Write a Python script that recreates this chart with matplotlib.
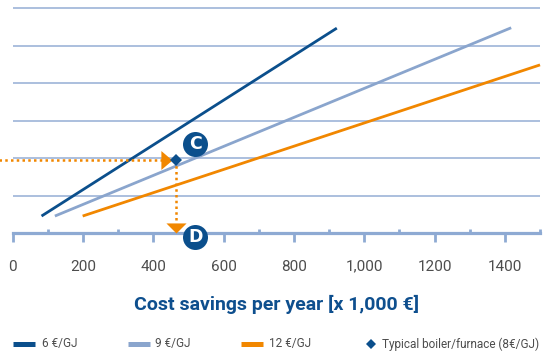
import matplotlib
matplotlib.use('Agg')
import matplotlib.pyplot as plt
from matplotlib.lines import Line2D

# series: (savings per year [x1000 EUR], relative investment level)
blue6_x = [82, 922]
blue6_y = [0.46, 5.47]
blue9_x = [120, 1418]
blue9_y = [0.46, 5.48]
orange12_x = [199, 1500]
orange12_y = [0.46, 4.49]

typical_x = 465
typical_y = 1.95

major_ticks = [0, 200, 400, 600, 800, 1000, 1200, 1400]
major_labels = ['0', '200', '400', '600', '800', '1,000', '1200', '1400']
minor_ticks = [100, 300, 500, 700, 900, 1100, 1300, 1500]
grid_levels = [1, 2, 3, 4, 5, 6]

series_labels = ['6 €/GJ', '9 €/GJ', '12 €/GJ']
typical_label = 'Typical boiler/furnace (8€/GJ)'

DARK = '#0b4f8c'
LIGHT = '#8aa5cd'
ORANGE = '#f18700'
GRID = '#9db4d8'
AXIS = '#8eaad3'
TXT = '#4d4d4d'

plt.rcParams['font.family'] = ['Roboto', 'DejaVu Sans']

fig = plt.figure(figsize=(5.46, 3.54), dpi=100)
ax = fig.add_axes([0, 104 / 354, 1, 250 / 354])
ax.set_xlim(-36.1, 1517)
ax.set_ylim(-0.445, 6.22)

ax.hlines(grid_levels, 0, 1500, color=GRID, lw=1.2, zorder=1)

ax.plot(blue6_x, blue6_y, color=DARK, lw=2, solid_capstyle='butt', zorder=3)
ax.plot(blue9_x, blue9_y, color=LIGHT, lw=2, solid_capstyle='butt', zorder=3)
ax.plot(orange12_x, orange12_y, color=ORANGE, lw=2, solid_capstyle='butt', zorder=3)

# dotted reading guides to the typical point
ax.plot([-40, typical_x - 40], [typical_y, typical_y], color=ORANGE, lw=1.8,
        ls=(0, (1, 1.3)), zorder=4)
ax.plot([typical_x, typical_x], [typical_y, 0.3], color=ORANGE, lw=1.8,
        ls=(0, (1, 1.3)), zorder=4)
ax.plot([typical_x - 13], [typical_y], marker=[(-1, -0.85), (0, 0), (-1, 0.85)],
        ms=16, color=ORANGE, mew=0, zorder=5)
ax.plot([typical_x], [0], marker=[(-1, 1), (0, 0), (1, 1)],
        ms=14.5, color=ORANGE, mew=0, zorder=5)
ax.plot([typical_x], [typical_y], marker='D', ms=6, color=DARK, mew=0, zorder=6)

# C / D badges
for lx, ly, letter in [(typical_x + 54, typical_y + 0.43, 'C'), (typical_x + 54, -0.107, 'D')]:
    ax.plot([lx], [ly], marker='o', ms=18, color=DARK, mew=0, zorder=7, clip_on=False)
    ax.text(lx, ly, letter, color='white', fontsize=12.5, fontweight='bold',
            ha='center', va='center', zorder=8, family=['DejaVu Sans'])

for s in ['top', 'right', 'left']:
    ax.spines[s].set_visible(False)
ax.spines['bottom'].set_position(('data', 0))
ax.spines['bottom'].set_bounds(0, 1500)
ax.spines['bottom'].set_color(AXIS)
ax.spines['bottom'].set_linewidth(2.3)
ax.spines['bottom'].set_zorder(2)
ax.set_yticks([])
ax.set_xticks(major_ticks)
ax.set_xticklabels(major_labels)
ax.set_xticks(minor_ticks, minor=True)
ax.tick_params(axis='x', which='major', direction='out', length=6.5, width=2,
               color=AXIS, pad=12.5, labelsize=11, labelcolor=TXT)
ax.tick_params(axis='x', which='minor', direction='in', length=2.6, width=2,
               color=AXIS)
ax.set_xlabel('Cost savings per year [x 1,000 €]', fontsize=14, color='#0e4f8e',
              fontweight='bold')
ax.xaxis.set_label_coords(277 / 546, (250 - 304) / 250)
ax.xaxis.label.set_va('center')

# legend row
ly = 1 - 344 / 354
for (x0, x1, tx), col, lab in zip([(13, 35, 41.5), (127.7, 150, 155), (241, 263.3, 269.3)],
                                  [DARK, LIGHT, ORANGE], series_labels):
    fig.add_artist(Line2D([x0 / 546, x1 / 546], [ly, ly], color=col, lw=3.6,
                          solid_capstyle='butt'))
    fig.text(tx / 546, ly, lab, fontsize=8.5, color=TXT, va='center', ha='left')
fig.add_artist(Line2D([370.7 / 546], [ly], marker='D', ms=5.5, color=DARK, mew=0))
fig.text(382.5 / 546, ly, typical_label, fontsize=8.5, color=TXT, va='center', ha='left')

fig.savefig('out.png', dpi=100)
